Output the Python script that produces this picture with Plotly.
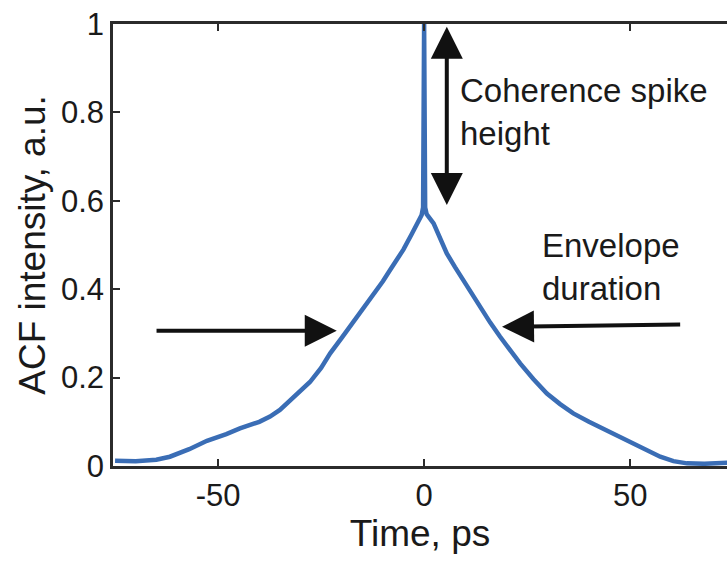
import plotly.graph_objects as go

# Data
time_ps = [-75, -70, -65, -61.7, -57, -52.7, -48, -44.7, -40, -37.4, -35, -32.5, -30, -27.7,
           -25, -22.8, -20, -18, -15, -13.1, -10, -8.3, -5, -3, -1.8, -0.6, -0.25, 0,
           0.25, 0.6, 2.3, 4, 5.5, 7.5, 9.5, 11.5, 13.6, 16, 18.4, 21, 23.3, 26.5, 29.8,
           33, 36.2, 40, 44.3, 47.5, 50.8, 54, 57.3, 60.5, 63.8, 68, 71.8, 75]
acf = [0.012, 0.011, 0.014, 0.021, 0.038, 0.057, 0.072, 0.085, 0.100, 0.112, 0.127, 0.148,
       0.168, 0.190, 0.222, 0.255, 0.290, 0.315, 0.352, 0.376, 0.418, 0.443, 0.490, 0.525,
       0.549, 0.568, 0.585, 1.0,
       0.585, 0.570, 0.549, 0.510, 0.481, 0.450, 0.420, 0.390, 0.360, 0.325, 0.293, 0.260,
       0.232, 0.197, 0.164, 0.140, 0.119, 0.100, 0.081, 0.066, 0.051, 0.036, 0.021, 0.011,
       0.006, 0.005, 0.006, 0.008]

x_ticks = [-50, 0, 50]
x_tick_labels = ["-50", "0", "50"]
y_ticks = [0, 0.2, 0.4, 0.6, 0.8, 1]
y_tick_labels = ["0", "0.2", "0.4", "0.6", "0.8", "1"]

FONT = "Liberation Sans, Arial, sans-serif"
BLUE = "#3a6db5"
TXT = "#1a1a1a"
AXC = "#2b2b2b"

fig = go.Figure()
fig.add_trace(go.Scatter(x=time_ps, y=acf, mode="lines",
                         line=dict(color=BLUE, width=4.5), showlegend=False,
                         cliponaxis=True))

fig.update_layout(
    template="none",
    width=727, height=569, margin=dict(l=113, r=0, t=24, b=103),
    paper_bgcolor="white", plot_bgcolor="white",
    xaxis=dict(range=[-75.5, 73.5], tickmode="array", tickvals=x_ticks, ticktext=x_tick_labels,
               showline=True, linecolor=AXC, linewidth=2.5, mirror="ticks",
               ticks="inside", ticklen=7, tickwidth=2, tickcolor=AXC,
               showgrid=False, zeroline=False, automargin=False,
               tickfont=dict(family=FONT, size=31, color=TXT),
               title=dict(text="Time, ps", font=dict(family=FONT, size=37, color=TXT), standoff=6)),
    yaxis=dict(range=[0, 1], tickmode="array", tickvals=y_ticks, ticktext=y_tick_labels,
               showline=True, linecolor=AXC, linewidth=2.5,
               ticks="inside", ticklen=7, tickwidth=2, tickcolor=AXC,
               showgrid=False, zeroline=False, automargin=False,
               tickfont=dict(family=FONT, size=31, color=TXT),
               title=dict(text="ACF intensity, a.u.", font=dict(family=FONT, size=37, color=TXT),
                          standoff=4)),
)

# Arrows
fig.add_annotation(x=5.5, y=0.994, ax=5.5, ay=0.587, xref="x", yref="y", axref="x", ayref="y",
                   text="", showarrow=True, arrowhead=2, startarrowhead=2, arrowside="end+start",
                   arrowwidth=4, arrowsize=1.6, startarrowsize=1.6, arrowcolor="#111111")
fig.add_annotation(x=-21.2, y=0.306, ax=-65.3, ay=0.306, xref="x", yref="y", axref="x", ayref="y",
                   text="", showarrow=True, arrowhead=2, arrowwidth=4, arrowsize=1.6,
                   arrowcolor="#111111")
fig.add_annotation(x=18.9, y=0.315, ax=62.5, ay=0.32, xref="x", yref="y", axref="x", ayref="y",
                   text="", showarrow=True, arrowhead=2, arrowwidth=4, arrowsize=1.6,
                   arrowcolor="#111111")

# Labels
fig.add_annotation(x=8.2, y=0.80, xref="x", yref="y", xanchor="left", yanchor="middle",
                   text="Coherence spike<br>height", showarrow=False, align="left",
                   font=dict(family=FONT, size=33, color=TXT))
fig.add_annotation(x=28.2, y=0.45, xref="x", yref="y", xanchor="left", yanchor="middle",
                   text="Envelope<br>duration", showarrow=False, align="left",
                   font=dict(family=FONT, size=33, color=TXT))

fig.write_html("out.html", config={"displayModeBar": False},
               post_script="document.body.style.margin='0';document.body.style.overflow='hidden';")
